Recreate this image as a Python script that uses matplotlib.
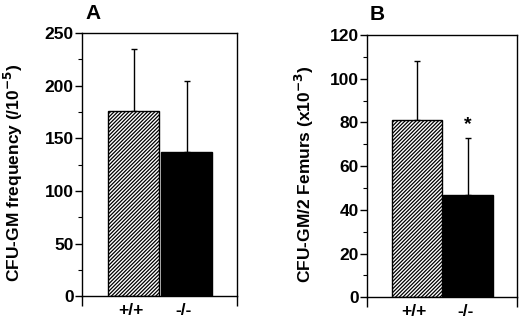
import matplotlib.pyplot as plt
import matplotlib as mpl

mpl.rcParams['font.family'] = ['Liberation Sans', 'DejaVu Sans']
mpl.rcParams['font.weight'] = 'bold'
mpl.rcParams['mathtext.default'] = 'bf'
mpl.rcParams['hatch.linewidth'] = 0.9

genotypes = ['+/+', '-/-']

# panel A: CFU-GM frequency (/10^-5)
freq_mean = [176, 137]
freq_err = [59, 67]

# panel B: CFU-GM / 2 femurs (x10^-3)
femur_mean = [81, 47]
femur_err = [27, 26]


def draw_panel(ax, means, errs, ymax, step, ylabel, letter, label_x, star=False):
    x = [0, 1]
    ax.bar(x[0], means[0], width=0.97, color='white', edgecolor='black',
           hatch='/////////', linewidth=1.0, zorder=2)
    ax.bar(x[1], means[1], width=0.97, color='black', edgecolor='black',
           linewidth=1.0, zorder=2)
    ax.errorbar(x, means, yerr=[[0, 0], errs], fmt='none', ecolor='black',
                elinewidth=1.0, capsize=2.5, capthick=1.0, zorder=1)
    ax.set_xlim(-0.97, 1.95)
    ax.set_ylim(0, ymax)
    ax.set_yticks(range(0, ymax + 1, step))
    ax.set_yticks([v + step / 2 for v in range(0, ymax, step)], minor=True)
    ax.set_xticks([-0.06, 0.94])
    ax.set_xticklabels(genotypes, fontsize=12.5)
    ax.set_xticks([-0.97, 1.95], minor=True)
    ax.tick_params(axis='x', which='major', length=0, pad=5)
    ax.tick_params(axis='x', which='minor', length=7, width=1.0)
    ax.tick_params(axis='y', which='major', length=5, width=1.0, labelsize=12.5, pad=1)
    ax.tick_params(axis='y', which='minor', length=3, width=0.8)
    for s in ax.spines.values():
        s.set_linewidth(1.0)
    ax.set_ylabel(ylabel, fontsize=12.5, fontweight='bold')
    ax.yaxis.set_label_coords(label_x, 0.47)
    ax.text(0.02, 1.04, letter, transform=ax.transAxes, fontsize=15,
            fontweight='bold', ha='left', va='bottom')
    if star:
        ax.text(x[1], means[1] + errs[1] + 2, '*', ha='center', va='bottom', fontsize=14)


fig = plt.figure(figsize=(5.2, 3.21), dpi=100)
ax1 = fig.add_axes([0.158, 0.077, 0.298, 0.820])
ax2 = fig.add_axes([0.706, 0.074, 0.288, 0.817])

draw_panel(ax1, freq_mean, freq_err, 250, 50,
           r'CFU-GM frequency (/10$^{-5}$)', 'A', -0.37)
draw_panel(ax2, femur_mean, femur_err, 120, 20,
           r'CFU-GM/2 Femurs (x10$^{-3}$)', 'B', -0.34, star=True)

fig.savefig('out.png', dpi=100)
